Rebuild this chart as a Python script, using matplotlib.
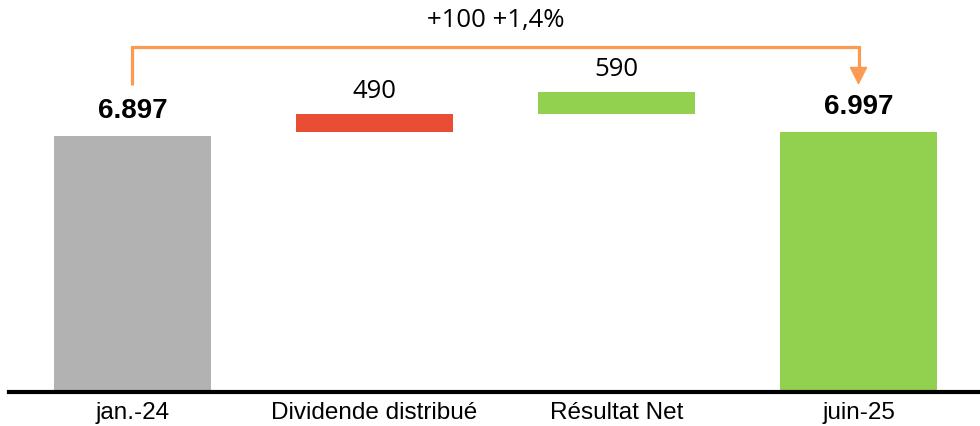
import matplotlib.pyplot as plt

# waterfall: opening equity, movements, closing equity
categories = ['jan.-24', 'Dividende distribué', 'Résultat Net', 'juin-25']
start_value = 6897
end_value = 6997
dividend = 490
net_result = 590

colors = ['#b2b2b2', '#e94e35', '#92d050', '#92d050']
orange = '#fd9a52'


def fmt_thousands(v):
    return f'{v:,}'.replace(',', '.')


heights = [start_value, dividend, net_result, end_value]
bottoms = [0, end_value, end_value + dividend, 0]
x = list(range(len(categories)))

fig = plt.figure(figsize=(9.8, 4.26), dpi=100)
ax = fig.add_axes([9 / 980, 34 / 426, 971 / 980, 392 / 426])

ax.bar(x, heights, bottom=bottoms, width=0.65, color=colors)

ax.set_xlim(-0.51, 3.502)
ax.set_ylim(0, 10560)

# value labels
for i in (0, 3):
    ax.annotate(fmt_thousands(heights[i]), (x[i], bottoms[i] + heights[i]),
                xytext=(0, 18), textcoords='offset points', ha='center', va='center',
                fontsize=20, fontweight='bold', family='Liberation Sans')
for i in (1, 2):
    ax.annotate(str(heights[i]), (x[i], bottoms[i] + heights[i]),
                xytext=(0, 16.5), textcoords='offset points', ha='center', va='center',
                fontsize=18.5, family='Open Sans')

# bracket with total change between first and last column
bracket_y = 9300
leg_bottom = 8270
ax.plot([x[0], x[0], x[3], x[3]], [leg_bottom, bracket_y, bracket_y, leg_bottom + 400],
        color=orange, lw=2.3, solid_joinstyle='miter', solid_capstyle='butt')
ax.annotate('', xy=(x[3], leg_bottom), xytext=(x[3], leg_bottom + 440),
            arrowprops=dict(arrowstyle='-|>,head_length=1.15,head_width=0.58',
                            color=orange, lw=1, shrinkA=0, shrinkB=0))

diff = end_value - start_value
pct = diff / start_value * 100
label = f'{diff:+d} {pct:+.1f}%'.replace('.', ',')
ax.text((x[0] + x[3]) / 2, 10020, label, ha='center', va='center',
        fontsize=18.5, family='Open Sans')

ax.set_xticks(x)
ax.set_xticklabels(categories, fontsize=17.5, family='Liberation Sans')
ax.tick_params(axis='x', length=0, pad=7.5)
ax.set_yticks([])
for side in ('left', 'right', 'top'):
    ax.spines[side].set_visible(False)
ax.spines['bottom'].set_linewidth(3)
ax.spines['bottom'].set_color('black')

fig.savefig('out.png', dpi=100)
